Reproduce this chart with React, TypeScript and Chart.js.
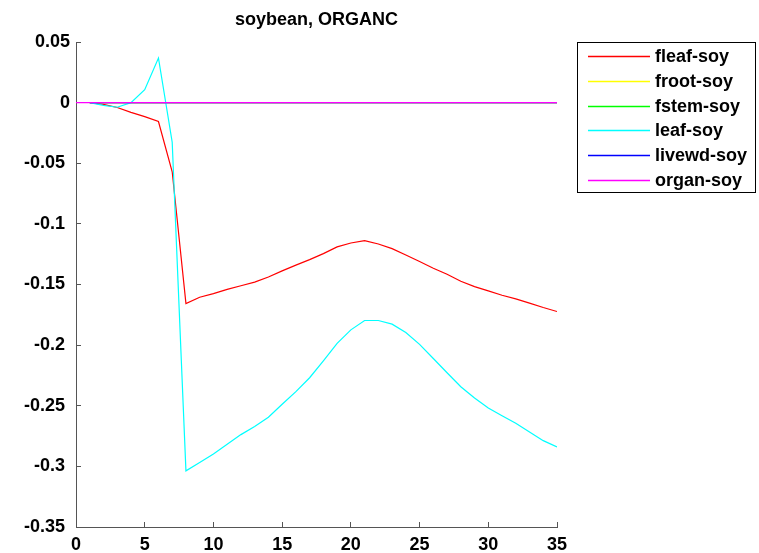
import React, { useEffect, useRef } from 'react';
import { Chart, registerables } from 'chart.js';

Chart.register(...registerables);

const chartTitle = 'soybean, ORGANC';

const days = [1, 2, 3, 4, 5, 6, 7, 8, 9, 10, 11, 12, 13, 14, 15, 16, 17, 18, 19, 20, 21, 22, 23, 24, 25, 26, 27, 28, 29, 30, 31, 32, 33, 34, 35];
const organDays = [0, 1, 2, 3, 4, 5, 6, 7, 8, 9, 10, 11, 12, 13, 14, 15, 16, 17, 18, 19, 20, 21, 22, 23, 24, 25, 26, 27, 28, 29, 30, 31, 32, 33, 34, 35];

const fleafSoy = [0, -0.0015, -0.004, -0.008, -0.0115, -0.0156, -0.057, -0.1657, -0.1605, -0.1575, -0.154, -0.151, -0.148, -0.1438, -0.1388, -0.134, -0.1295, -0.1245, -0.119, -0.1158, -0.1138, -0.1166, -0.1204, -0.1257, -0.131, -0.1366, -0.1416, -0.1473, -0.1517, -0.1553, -0.1589, -0.1619, -0.1654, -0.169, -0.1723];
const frootSoy = [0, 0, 0, 0, 0, 0, 0, 0, 0, 0, 0, 0, 0, 0, 0, 0, 0, 0, 0, 0, 0, 0, 0, 0, 0, 0, 0, 0, 0, 0, 0, 0, 0, 0, 0];
const fstemSoy = [0, 0, 0, 0, 0, 0, 0, 0, 0, 0, 0, 0, 0, 0, 0, 0, 0, 0, 0, 0, 0, 0, 0, 0, 0, 0, 0, 0, 0, 0, 0, 0, 0, 0, 0];
const leafSoy = [0, -0.0022, -0.0038, 0, 0.0107, 0.0368, -0.0327, -0.3037, -0.2968, -0.2897, -0.2818, -0.2738, -0.2672, -0.2595, -0.2488, -0.2384, -0.2269, -0.2129, -0.1986, -0.1874, -0.1797, -0.1797, -0.1827, -0.1896, -0.1994, -0.211, -0.2228, -0.2343, -0.2436, -0.2519, -0.2582, -0.2645, -0.2716, -0.2788, -0.284];
const livewdSoy = [0, 0, 0, 0, 0, 0, 0, 0, 0, 0, 0, 0, 0, 0, 0, 0, 0, 0, 0, 0, 0, 0, 0, 0, 0, 0, 0, 0, 0, 0, 0, 0, 0, 0, 0];
const organSoy = [0, 0, 0, 0, 0, 0, 0, 0, 0, 0, 0, 0, 0, 0, 0, 0, 0, 0, 0, 0, 0, 0, 0, 0, 0, 0, 0, 0, 0, 0, 0, 0, 0, 0, 0, 0];

const seriesLabels = ['fleaf-soy', 'froot-soy', 'fstem-soy', 'leaf-soy', 'livewd-soy', 'organ-soy'];
const seriesColors = ['#ff0000', '#ffff00', '#00ff00', '#00ffff', '#0000ff', '#ff00ff'];

const xTicks = [0, 5, 10, 15, 20, 25, 30, 35];
const yTicks = [-0.35, -0.3, -0.25, -0.2, -0.15, -0.1, -0.05, 0, 0.05];

const FONT = '"Liberation Sans", Arial, Helvetica, sans-serif';
const AXIS_COLOR = '#555555';

const pairs = (xs: number[], ys: number[]) => ys.map((y, i) => ({ x: xs[i], y }));

const legendBoxPlugin = {
  id: 'legendBox',
  afterDraw(chart: any) {
    const ctx = chart.ctx;
    ctx.save();
    const left = 577;
    const top = 42;
    const w = 178;
    const h = 150;
    ctx.fillStyle = '#ffffff';
    ctx.fillRect(left, top, w, h);
    ctx.strokeStyle = '#000000';
    ctx.lineWidth = 1;
    ctx.strokeRect(left + 0.5, top + 0.5, w, h);
    ctx.font = `bold 18px ${FONT}`;
    ctx.textBaseline = 'middle';
    ctx.textAlign = 'left';
    chart.data.datasets.forEach((ds: any, i: number) => {
      const y = Math.round(56 + i * 24.8);
      ctx.strokeStyle = ds.borderColor;
      ctx.lineWidth = 1.3;
      ctx.beginPath();
      ctx.moveTo(588, y + 0.5);
      ctx.lineTo(650, y + 0.5);
      ctx.stroke();
      ctx.fillStyle = '#000000';
      ctx.fillText(ds.label, 655, y + 1);
    });
    ctx.restore();
  },
};

const formatY = (v: any) => {
  const n = parseFloat(Number(v).toFixed(2)) || 0;
  return n < 0 ? String(n) + ' ' : String(n);
};

export default function App() {
  const canvasRef = useRef<HTMLCanvasElement | null>(null);

  useEffect(() => {
    document.body.style.margin = '0';
    const canvas = canvasRef.current;
    if (!canvas) return;
    const seriesData = [
      pairs(days, fleafSoy),
      pairs(days, frootSoy),
      pairs(days, fstemSoy),
      pairs(days, leafSoy),
      pairs(days, livewdSoy),
      pairs(organDays, organSoy),
    ];
    const chart = new Chart(canvas, {
      type: 'line',
      data: {
        datasets: seriesLabels.map((label, i) => ({
          label,
          data: seriesData[i],
          borderColor: seriesColors[i],
          backgroundColor: seriesColors[i],
          borderWidth: 1.2,
          pointRadius: 0,
          pointHoverRadius: 0,
          tension: 0,
          fill: false,
          order: seriesLabels.length - 1 - i,
        })),
      },
      options: {
        animation: false,
        responsive: false,
        devicePixelRatio: 1,
        layout: { padding: { left: 0, right: 202, top: 0, bottom: 0 } },
        plugins: {
          legend: { display: false },
          tooltip: { enabled: false },
          title: {
            display: true,
            text: chartTitle,
            fullSize: false,
            color: '#000000',
            font: { family: FONT, size: 18, weight: 'bold', lineHeight: 1.2 },
            padding: { top: 9, bottom: 11.4 },
          },
        },
        scales: {
          x: {
            type: 'linear',
            min: 0,
            max: 35,
            afterBuildTicks: (scale: any) => {
              scale.ticks = xTicks.map((v) => ({ value: v }));
            },
            afterFit: (scale: any) => {
              scale.height = 26;
            },
            ticks: {
              color: '#000000',
              font: { family: FONT, size: 18, weight: 'bold' },
              padding: 12,
              maxRotation: 0,
              autoSkip: false,
              callback: (v: any) => String(v),
            },
            grid: {
              drawOnChartArea: false,
              drawTicks: true,
              tickLength: -5,
              color: AXIS_COLOR,
              lineWidth: 1,
            },
            border: { display: true, color: AXIS_COLOR, width: 1 },
          },
          y: {
            type: 'linear',
            min: -0.35,
            max: 0.05,
            afterBuildTicks: (scale: any) => {
              scale.ticks = yTicks.map((v) => ({ value: v }));
            },
            afterFit: (scale: any) => {
              scale.width = 76;
            },
            ticks: {
              color: '#000000',
              font: { family: FONT, size: 18, weight: 'bold' },
              padding: 11,
              autoSkip: false,
              callback: formatY,
            },
            grid: {
              drawOnChartArea: false,
              drawTicks: true,
              tickLength: -5,
              color: AXIS_COLOR,
              lineWidth: 1,
            },
            border: { display: true, color: AXIS_COLOR, width: 1 },
          },
        },
      },
      plugins: [legendBoxPlugin],
    } as any);
    return () => {
      chart.destroy();
    };
  }, []);

  return (
    <div style={{ position: 'absolute', left: 0, top: 0, width: 759, height: 553, background: '#ffffff' }}>
      <canvas ref={canvasRef} width={759} height={553} style={{ width: 759, height: 553, display: 'block' }} />
    </div>
  );
}
